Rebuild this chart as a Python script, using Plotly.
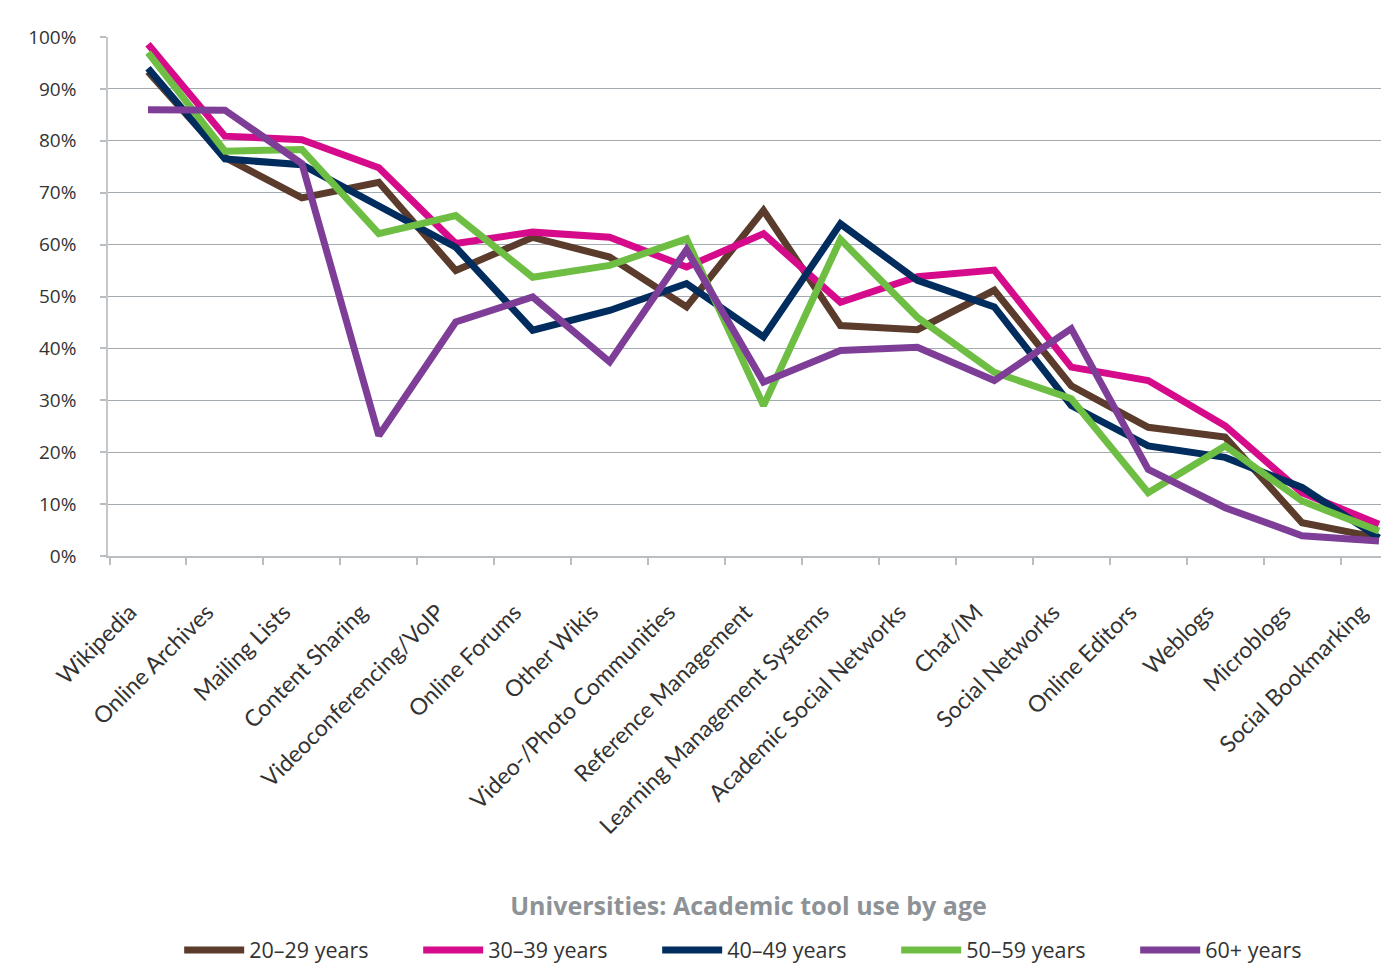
import plotly.graph_objects as go

categories = ["Wikipedia", "Online Archives", "Mailing Lists", "Content Sharing",
              "Videoconferencing/VoIP", "Online Forums", "Other Wikis",
              "Video-/Photo Communities", "Reference Management",
              "Learning Management Systems", "Academic Social Networks", "Chat/IM",
              "Social Networks", "Online Editors", "Weblogs", "Microblogs",
              "Social Bookmarking"]

age_20_29 = [93.3, 76.8, 69.0, 72.0, 55.0, 61.4, 57.6, 48.0, 66.6, 44.4, 43.6, 51.2, 32.8, 24.8, 22.9, 6.4, 3.5]
age_30_39 = [98.6, 80.9, 80.2, 74.8, 60.2, 62.4, 61.4, 55.7, 62.1, 48.9, 53.8, 55.1, 36.4, 33.8, 25.1, 12.2, 6.1]
age_40_49 = [94.0, 76.5, 75.4, 67.5, 59.5, 43.5, 47.3, 52.5, 42.2, 64.0, 53.1, 48.0, 29.0, 21.2, 19.0, 13.2, 3.5]
age_50_59 = [97.0, 78.0, 78.3, 62.1, 65.6, 53.7, 56.0, 61.1, 29.0, 61.0, 46.0, 35.4, 30.3, 12.2, 21.2, 10.6, 4.8]
age_60_plus = [86.0, 85.9, 75.6, 23.2, 45.1, 49.9, 37.4, 59.0, 33.5, 39.6, 40.2, 33.8, 43.8, 16.7, 9.3, 3.9, 2.9]

series_names = ["20–29 years", "30–39 years", "40–49 years", "50–59 years", "60+ years"]
series_values = [age_20_29, age_30_39, age_40_49, age_50_59, age_60_plus]
colors = ["#5b3b2b", "#d60b8c", "#002c5e", "#6fbe44", "#7e3e98"]

tick_vals = [0, 10, 20, 30, 40, 50, 60, 70, 80, 90, 100]
tick_text = [f"{v}%" for v in tick_vals]

fig = go.Figure()
for name, vals, col in zip(series_names, series_values, colors):
    fig.add_trace(go.Scatter(
        x=categories, y=vals, name=name, mode="lines",
        line=dict(color=col, width=7, shape="linear"),
    ))

OFF = 8  # page body margin
W, H = 1389 - OFF, 963 - OFF
left, top, bottom_px = 108 - OFF, 36.7 - OFF, 555.6 - OFF
fig.update_layout(
    width=W, height=H,
    margin=dict(l=left, r=0, t=top, b=H - bottom_px, pad=0, autoexpand=False),
    paper_bgcolor="white", plot_bgcolor="white",
    font=dict(family="Open Sans", color="#333333"),
    showlegend=True,
    legend=dict(
        orientation="h", x=0.522, xanchor="center", xref="paper",
        y=1 - (950 - OFF) / H, yanchor="middle", yref="container",
        font=dict(family="Open Sans", size=21.5, color="#333333"),
        entrywidth=164, entrywidthmode="pixels", itemwidth=60,
        traceorder="normal",
    ),
    title=dict(
        text="<b>Universities: Academic tool use by age</b>",
        x=0.5, xref="paper", xanchor="center",
        y=1 - (906 - OFF) / H, yref="container", yanchor="middle",
        font=dict(family="Open Sans", size=25, color="#8d9297"),
    ),
)

fig.update_xaxes(
    type="category", range=[-0.52, 16.13],
    tickangle=-45, tickson="boundaries",
    ticks="outside", ticklen=7, tickcolor="#b9bec2", tickwidth=1.5,
    showline=True, linecolor="#b9bec2", linewidth=1.5,
    showgrid=False, automargin=False,
    tickfont=dict(family="Lato", size=23, color="#333333"),
    ticklabelstandoff=32, ticklabelshift=-18,
)
fig.update_yaxes(
    range=[0, 100], tickvals=tick_vals, ticktext=tick_text,
    ticks="outside", ticklen=6, tickcolor="#b9bec2", tickwidth=1.5,
    showline=True, linecolor="#c3c7ca", linewidth=1.5,
    showgrid=True, gridcolor="#a3abb0", gridwidth=1.3,
    zeroline=False, automargin=False,
    tickfont=dict(family="Open Sans", size=19, color="#333333"),
    ticklabelstandoff=20,
)

fig.write_html("out.html")
